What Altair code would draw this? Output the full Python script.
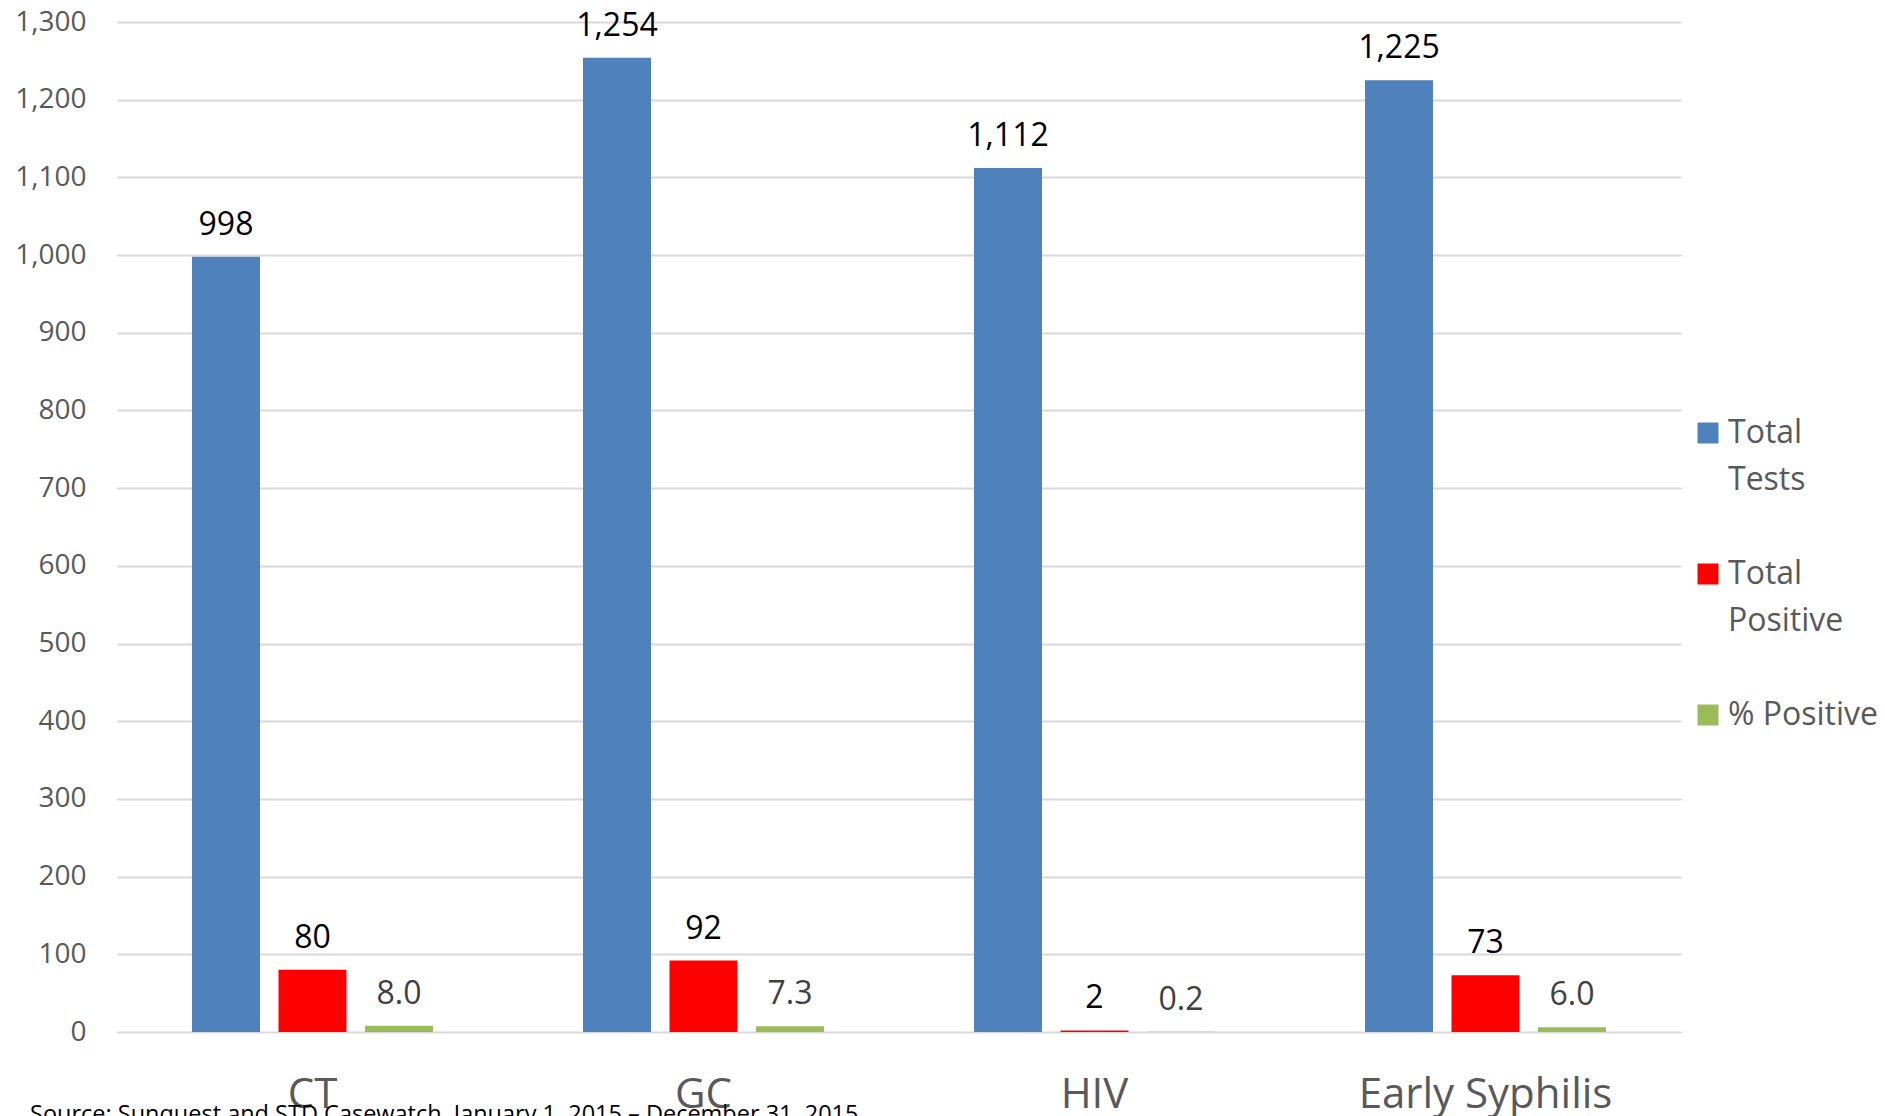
import altair as alt
import pandas as pd

categories = ["CT", "GC", "HIV", "Early Syphilis"]
series = ["Total Tests", "Total Positive", "% Positive"]
total_tests = [998, 1254, 1112, 1225]
total_positive = [80, 92, 2, 73]
pct_positive = [8.0, 7.3, 0.2, 6.0]
y_ticks = list(range(0, 1301, 100))
series_colors = ["#4F81BD", "#FF0000", "#9BBB59"]
source_text = "Source: Sunquest and STD Casewatch, January 1, 2015 \u2013 December 31, 2015"

rows = []
for i, c in enumerate(categories):
    for s, vals in zip(series, [total_tests, total_positive, pct_positive]):
        v = vals[i]
        lab = f"{v:.1f}" if s == "% Positive" else f"{v:,.0f}"
        rows.append({"category": c, "series": s, "value": v, "label": lab})
df = pd.DataFrame(rows)

FONT = "Open Sans"

x_enc = alt.X(
    "category:N",
    sort=categories,
    scale=alt.Scale(paddingInner=0.3363, paddingOuter=0.16815),
    axis=alt.Axis(
        title=None, labelAngle=0, labelFont=FONT, labelFontSize=42,
        labelColor="#595959", labelPadding=42, labelLimit=600, ticks=False,
        tickSize=0, domain=False, grid=False,
    ),
)
xoff_enc = alt.XOffset(
    "series:N", sort=series,
    scale=alt.Scale(paddingInner=0.214, paddingOuter=0.107),
)
y_enc = alt.Y(
    "value:Q",
    scale=alt.Scale(domain=[0, 1300], nice=False),
    axis=alt.Axis(
        title=None, values=y_ticks, format=",.0f", labelFont=FONT,
        labelFontSize=28, labelColor="#595959", labelPadding=31,
        ticks=False, tickSize=0, domain=False, grid=True,
        gridColor="#D9D9D9", gridWidth=2,
    ),
)

bars = alt.Chart(df).mark_bar().encode(
    x=x_enc,
    xOffset=xoff_enc,
    y=y_enc,
    color=alt.Color(
        "series:N",
        sort=series,
        scale=alt.Scale(domain=series, range=series_colors),
        legend=alt.Legend(
            title=None, orient="none", legendX=1575, legendY=395,
            symbolType="square", symbolSize=441, symbolStrokeWidth=0,
            labelFont=FONT, labelFontSize=32, labelColor="#595959",
            labelOffset=4, labelLimit=400, rowPadding=62, padding=0,
            labelExpr="datum.label == '% Positive' ? datum.label : split(datum.label, ' ')",
        ),
    ),
)

labels = alt.Chart(df).mark_text(
    baseline="alphabetic", align="center", dy=-22, font=FONT, fontSize=32
).encode(
    x=alt.X("category:N", sort=categories),
    xOffset=alt.XOffset("series:N", sort=series),
    y=alt.Y("value:Q"),
    text="label:N",
    color=alt.condition(
        "datum.series === '% Positive'", alt.value("#404040"), alt.value("#000000")
    ),
)

chart = (
    alt.layer(bars, labels)
    .properties(
        width=1564,
        height=1010,
        autosize=alt.AutoSizeParams(type="none"),
        padding={"left": 109, "top": 14, "right": 196, "bottom": 84},
        title=alt.TitleParams(
            text=source_text, orient="bottom", anchor="start", frame="group",
            dx=-87, offset=-12, font=FONT, fontSize=23.5, fontWeight="normal",
            color="#000000",
        ),
    )
    .configure(
        style={"guide-label": {"lineHeight": 47}},
        view=alt.ViewConfig(stroke=None),
    )
)

chart.save("out.html", embed_options={"renderer": "svg", "actions": False})
